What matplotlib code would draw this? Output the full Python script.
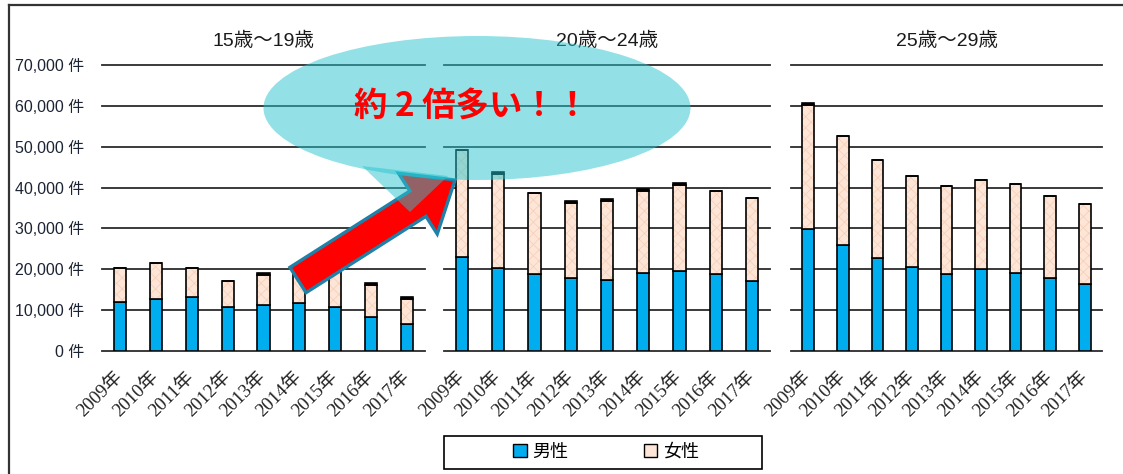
import matplotlib
matplotlib.use("Agg")
import matplotlib.pyplot as plt
import numpy as np
from matplotlib.patches import Patch, Ellipse, FancyArrow, Polygon, Rectangle
from matplotlib.lines import Line2D

years = ["2009年", "2010年", "2011年", "2012年", "2013年",
         "2014年", "2015年", "2016年", "2017年"]
panel_titles = ["15歳～19歳", "20歳～24歳", "25歳～29歳"]
yticks = [0, 10000, 20000, 30000, 40000, 50000, 60000, 70000]
ytick_labels = ["0 件", "10,000 件", "20,000 件", "30,000 件", "40,000 件",
                "50,000 件", "60,000 件", "70,000 件"]

male_15 = [12000, 12700, 13200, 10800, 11200, 11700, 10800, 8300, 6600]
female_15 = [8300, 8800, 7100, 6300, 7500, 8100, 8700, 7900, 6200]
other_15 = [0, 0, 0, 0, 400, 0, 0, 400, 400]

male_20 = [23100, 20200, 18800, 17900, 17500, 19200, 19500, 18800, 17100]
female_20 = [26200, 23200, 19900, 18400, 19200, 20000, 21200, 20400, 20400]
other_20 = [0, 500, 0, 400, 500, 400, 400, 0, 0]

male_25 = [29800, 25900, 22700, 20600, 18800, 20000, 19200, 17900, 16400]
female_25 = [30400, 26700, 24000, 22200, 21500, 21800, 21600, 20000, 19600]
other_25 = [400, 0, 0, 0, 0, 0, 0, 0, 0]

callout_text = "約 2 倍多い！！"

plt.rcParams["font.family"] = ["Liberation Sans", "Noto Sans CJK JP"]
plt.rcParams["hatch.linewidth"] = 0.6

W, H = 1123, 474
fig = plt.figure(figsize=(W / 100, H / 100), dpi=100)
fig.patch.set_facecolor("white")

BLUE = "#00aeef"
PEACH = "#fde6d8"
PEACH_HATCH = "#f8d0b8"

# panel positions in pixels (left, right)
panels = [(102, 425), (444, 770), (791, 1102)]
y0_px, y1_px = 351, 65
series = [(male_15, female_15, other_15),
          (male_20, female_20, other_20),
          (male_25, female_25, other_25)]

x = np.arange(len(years))
bw = 0.34
for i, ((l, r), (m, f, o)) in enumerate(zip(panels, series)):
    ax = fig.add_axes([l / W, 1 - y0_px / H, (r - l) / W, (y0_px - y1_px) / H])
    ax.set_xlim(-0.5, len(years) - 0.5)
    ax.set_ylim(0, 70000)
    for s in ax.spines.values():
        s.set_visible(False)
    for yt in yticks:
        ax.axhline(yt, color="#2b2b2b", lw=1.3, zorder=0, clip_on=False)
    m = np.array(m)
    f = np.array(f)
    o = np.array(o)
    ax.bar(x, m, bw, color=BLUE, edgecolor="black", lw=1.2, zorder=2)
    ax.bar(x, f, bw, bottom=m, color=PEACH, edgecolor=PEACH_HATCH,
           hatch="xxx", lw=0, zorder=2)
    ax.bar(x, f, bw, bottom=m, fill=False, edgecolor="black", lw=1.2, zorder=3)
    ax.bar(x, o, bw, bottom=m + f, color="black", edgecolor="black", lw=1.2, zorder=3)

    ax.set_yticks(yticks)
    if i == 0:
        ax.set_yticklabels(ytick_labels, fontsize=11.5, color="#1c2333")
        ax.tick_params(axis="y", length=0, pad=13)
    else:
        ax.set_yticklabels([])
        ax.tick_params(axis="y", length=0)
    ax.set_xticks(x)
    ax.set_xticklabels(years, rotation=45, ha="right", va="center",
                       rotation_mode="anchor", fontsize=13.5, color="#222222",
                       family=["Liberation Serif", "Noto Sans CJK JP"])
    ax.tick_params(axis="x", length=0, pad=17)
    ax.patch.set_alpha(0)

    fig.text((l + r) / 2 / W, 1 - 41 / H, panel_titles[i], ha="center",
             va="center", fontsize=14, color="#1a1a1a")

inch = fig.dpi_scale_trans


def px(xp, yp):
    return (xp / 100, (H - yp) / 100)


# red arrow (below the bubble)
tail = px(298, 280)
tip = px(455, 180)
arrow = FancyArrow(tail[0], tail[1], tip[0] - tail[0], tip[1] - tail[1],
                   width=0.30, head_width=0.72, head_length=0.44,
                   length_includes_head=True, transform=inch,
                   facecolor="#ff0000", edgecolor="#1f80a8", lw=2.4, zorder=5)
fig.patches.append(arrow)

# speech bubble
bubble_col = "#28c5cf"
ell = Ellipse(px(477, 108), 4.27, 1.44, transform=inch,
              facecolor=bubble_col, edgecolor="none", alpha=0.5, zorder=6)
fig.patches.append(ell)
tail_poly = Polygon([px(362, 166), px(448, 176), px(410, 212)], closed=True,
                    transform=inch, facecolor=bubble_col, edgecolor="none",
                    alpha=0.5, zorder=6)
fig.patches.append(tail_poly)

fig.text(472 / W, 1 - 106 / H, callout_text, ha="center", va="center",
         fontsize=24, color="#ff0000", fontweight="bold",
         family=["Noto Sans CJK JP"], zorder=7)

# legend
fig.patches.append(Rectangle(px(444, 469), 3.18, 0.33, transform=inch,
                             facecolor="white", edgecolor="black", lw=1.2,
                             zorder=4))
handles = [Patch(facecolor=BLUE, edgecolor="black", lw=1.0, label="男性"),
           Patch(facecolor=PEACH, edgecolor="black", lw=1.0, label="女性")]
leg = fig.legend(handles=handles, loc="center", bbox_to_anchor=(606 / W, 1 - 452 / H),
                 ncol=2, frameon=False, fontsize=13, handlelength=0.75,
                 handleheight=0.75, handletextpad=0.3, columnspacing=4.2)
leg.set_zorder(8)

# outer frame
fig.add_artist(Line2D([9 / W, 9 / W], [1 - 5 / H, 0], color="#333333", lw=1.6))
fig.add_artist(Line2D([9 / W, 1], [1 - 5 / H, 1 - 5 / H], color="#333333", lw=1.6))

fig.savefig("out.png", dpi=100)
